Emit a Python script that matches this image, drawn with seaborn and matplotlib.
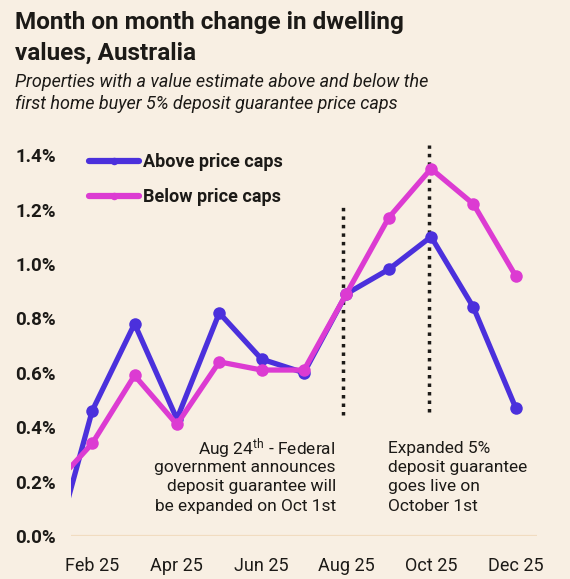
import matplotlib
matplotlib.use("Agg")
import matplotlib.pyplot as plt
import seaborn as sns
import pandas as pd
import numpy as np

months = ["Jan 25", "Feb 25", "Mar 25", "Apr 25", "May 25", "Jun 25",
          "Jul 25", "Aug 25", "Sep 25", "Oct 25", "Nov 25", "Dec 25"]
above = [-0.11, 0.46, 0.78, 0.43, 0.82, 0.65, 0.60, 0.89, 0.98, 1.10, 0.84, 0.47]
below = [0.17, 0.34, 0.59, 0.41, 0.64, 0.61, 0.61, 0.89, 1.17, 1.35, 1.22, 0.955]
series_names = ["Above price caps", "Below price caps"]
tick_labels = ["Feb 25", "Apr 25", "Jun 25", "Aug 25", "Oct 25", "Dec 25"]
y_ticks = [0.0, 0.2, 0.4, 0.6, 0.8, 1.0, 1.2, 1.4]
note_left = ["Aug 24$^{\\mathrm{th}}$ - Federal", "government announces",
             "deposit guarantee will", "be expanded on Oct 1st"]
note_right = ["Expanded 5%", "deposit guarantee", "goes live on", "October 1st"]

BG = "#f8efe3"
BLUE = "#4b30dc"
PINK = "#dc3bd2"
TXT = "#1c1a17"

sns.set_theme(style="white")
plt.rcParams["font.family"] = ["Roboto", "DejaVu Sans"]
plt.rcParams["mathtext.fontset"] = "custom"
plt.rcParams["mathtext.rm"] = "Roboto"
plt.rcParams["mathtext.it"] = "Roboto:italic"
plt.rcParams["mathtext.bf"] = "Roboto:bold"

df = pd.DataFrame({
    "idx": list(range(len(months))) * 2,
    "value": above + below,
    "series": [series_names[0]] * len(months) + [series_names[1]] * len(months),
})

fig = plt.figure(figsize=(5.70, 5.79), dpi=100, facecolor=BG)
ax = fig.add_axes([71 / 570, 0.0743, (537 - 71) / 570, 0.6813])
ax.set_facecolor(BG)

ax.axhline(0, color="#f1dcc0", lw=1.6, zorder=1)

sns.lineplot(data=df, x="idx", y="value", hue="series", hue_order=series_names,
             palette=[BLUE, PINK], marker="o", markersize=9, markeredgewidth=0,
             linewidth=3.8, ax=ax, zorder=3)

# event lines
ax.plot([6.93, 6.93], [0.445, 1.22], color=TXT, lw=2.5,
        linestyle=(0, (1.0, 1.45)), dash_capstyle="butt", zorder=2)
ax.plot([8.95, 8.95], [0.456, 1.437], color=TXT, lw=2.5,
        linestyle=(0, (1.0, 1.45)), dash_capstyle="butt", zorder=2)

ax.set_xlim(0.5, 11.5)
ax.set_ylim(0, 1.45)
ax.set_xticks([1, 3, 5, 7, 9, 11])
ax.set_xticklabels(tick_labels, fontsize=13, color=TXT)
ax.set_yticks(y_ticks)
ax.set_yticklabels([f"{v:.1f}%" for v in y_ticks], fontsize=13.5,
                   fontweight="bold", color=TXT)
ax.tick_params(axis="y", length=0, pad=11)
ax.tick_params(axis="x", length=0, pad=15)
ax.set_xlabel("")
ax.set_ylabel("")
for s in ax.spines.values():
    s.set_visible(False)

leg = ax.legend(loc="upper left", bbox_to_anchor=(73 / 570, (579 - 137) / 579),
                bbox_transform=fig.transFigure, frameon=False,
                fontsize=13, handlelength=2.75, handletextpad=0.25,
                labelspacing=0.95, markerscale=0.6)
for t in leg.get_texts():
    t.set_fontweight("bold")
    t.set_color(TXT)
for h in leg.get_lines():
    h.set_linewidth(4.5)

y_note = 0.323
for i, line in enumerate(note_left):
    ax.annotate(line, xy=(6.75, y_note), xytext=(0, -14.0 * i),
                textcoords="offset points", ha="right", va="center",
                fontsize=12.5, color=TXT)
for i, line in enumerate(note_right):
    ax.annotate(line, xy=(7.98, y_note), xytext=(0, -14.0 * i),
                textcoords="offset points", ha="left", va="center",
                fontsize=12.5, color=TXT)

fig.text(15 / 570, 1 - 11 / 579, "Month on month change in dwelling\nvalues, Australia",
         ha="left", va="top", fontsize=17.5, fontweight="bold", color=TXT, linespacing=1.42)
fig.text(15 / 570, 1 - 73 / 579,
         "Properties with a value estimate above and below the\nfirst home buyer 5% deposit guarantee price caps",
         ha="left", va="top", fontsize=13, style="italic", color=TXT, linespacing=1.25)

fig.savefig("out.png", dpi=100, facecolor=BG)
